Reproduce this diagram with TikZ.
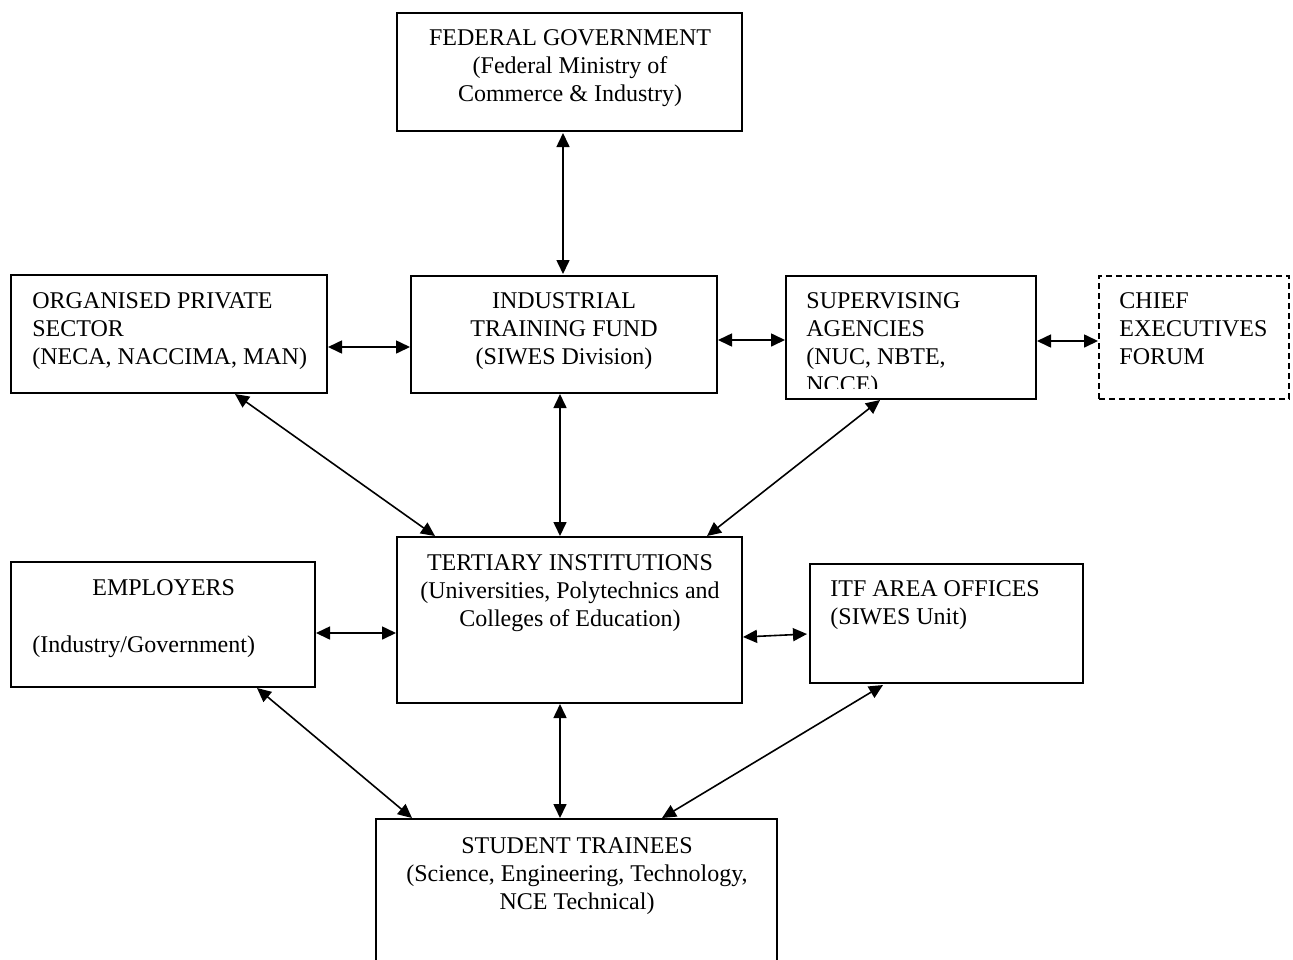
\documentclass[tikz,border=0pt]{standalone}
\usepackage{fontspec}
\setmainfont{Liberation Serif}
\usetikzlibrary{calc,arrows.meta}
\begin{document}
\begin{tikzpicture}[x=0.5pt,y=-0.5pt,
  box/.style={draw,line width=0.75pt,rectangle,inner sep=0pt,outer sep=0pt,anchor=north west},
  dbox/.style={box,dashed,dash pattern=on 3pt off 2pt},
  txt/.style={inner sep=0pt,font=\fontsize{12pt}{14pt}\selectfont},
  tc/.style={txt,anchor=base},
  tl/.style={txt,anchor=base west},
  arr/.style={line width=0.8pt,{Triangle[length=7pt,width=6.5pt]}-{Triangle[length=7pt,width=6.5pt]}}]
\useasboundingbox (0,0) rectangle (1293,959);
% boxes
\node[box,minimum width=172.5pt,minimum height=59pt] (fed) at (397,13) {};
\node[box,minimum width=158pt,minimum height=59pt] (org) at (11,275) {};
\node[box,minimum width=153pt,minimum height=58.5pt] (itf) at (411,276) {};
\node[box,minimum width=125pt,minimum height=61.5pt] (sup) at (786,276) {};
\node[dbox,minimum width=95pt,minimum height=61.5pt] (chief) at (1099,276) {};
\node[box,minimum width=172.5pt,minimum height=83pt] (ter) at (397,537) {};
\node[box,minimum width=152pt,minimum height=62.5pt] (emp) at (11,562) {};
\node[box,minimum width=136.5pt,minimum height=59.5pt] (area) at (810,564) {};
\node[box,minimum width=200.5pt,minimum height=90pt] (stu) at (376,819) {};
% texts
\node[tc] (fedA) at (570,45) {FEDERAL GOVERNMENT};
\node[tc] (fedB) at (570,73) {(Federal Ministry of};
\node[tc] (fedC) at (570,101) {Commerce \& Industry)};
\node[tl] (orgA) at (32,308) {ORGANISED PRIVATE};
\node[tl] (orgB) at (32,336) {SECTOR};
\node[tl] (orgC) at (32,364) {(NECA, NACCIMA, MAN)};
\node[tc] (itfA) at (564,308) {INDUSTRIAL};
\node[tc] (itfB) at (564,336) {TRAINING FUND};
\node[tc] (itfC) at (564,364) {(SIWES Division)};
\begin{scope}
\clip (786,276) rectangle (1036,388);
\node[tl] (supA) at (806,308) {SUPERVISING};
\node[tl] (supB) at (806,336) {AGENCIES};
\node[tl] (supC) at (806,364) {(NUC, NBTE,};
\node[tl] (supD) at (806,392) {NCCE)};
\end{scope}
\node[tl] (chiefA) at (1119,308) {CHIEF};
\node[tl] (chiefB) at (1119,336) {EXECUTIVES};
\node[tl] (chiefC) at (1119,364) {FORUM};
\node[tc] (terA) at (570,570) {TERTIARY INSTITUTIONS};
\node[tc] (terB) at (570,598) {(Universities, Polytechnics and};
\node[tc] (terC) at (570,626) {Colleges of Education)};
\node[tl] (empA) at (92,595) {EMPLOYERS};
\node[tl] (empB) at (32,652) {(Industry/Government)};
\node[tl] (areaA) at (830,596) {ITF AREA OFFICES};
\node[tl] (areaB) at (830,624) {(SIWES Unit)};
\node[tc] (stuA) at (577,853) {STUDENT TRAINEES};
\node[tc] (stuB) at (577,881) {(Science, Engineering, Technology,};
\node[tc] (stuC) at (577,909) {NCE Technical)};
% connectors
\draw[arr] ($(fed.south west)+(166,2)$) -- ($(itf.north west)+(152,-2)$);
\draw[arr] ($(org.north east)+(1,72)$) -- ($(itf.north west)+(-1,71)$);
\draw[arr] ($(itf.north east)+(1,64)$) -- ($(sup.north west)+(-1,64)$);
\draw[arr] ($(sup.north east)+(1,65)$) -- ($(chief.north west)+(-1,65)$);
\draw[arr] ($(org.south west)+(224,1)$) -- ($(ter.north west)+(38,-1)$);
\draw[arr] ($(itf.south west)+(149,1)$) -- ($(ter.north west)+(163,-1)$);
\draw[arr] ($(sup.south west)+(94,1)$) -- ($(ter.north west)+(310,-1)$);
\draw[arr] ($(emp.north east)+(1,71)$) -- ($(ter.north west)+(-1,96)$);
\draw[arr] ($(ter.north east)+(1,100)$) -- ($(area.north west)+(-3,70)$);
\draw[arr] ($(emp.south west)+(246,1)$) -- ($(stu.north west)+(36,-1)$);
\draw[arr] ($(ter.south west)+(163,1)$) -- ($(stu.north west)+(184,-1)$);
\draw[arr] ($(area.south west)+(73,2)$) -- ($(stu.north west)+(286,-1)$);
\end{tikzpicture}
\end{document}
